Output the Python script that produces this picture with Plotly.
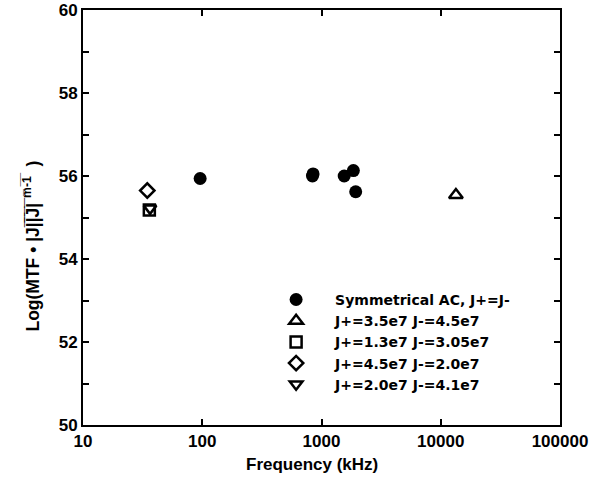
import plotly.graph_objects as go

# Data
sym_freq = [96, 840, 850, 1550, 1850, 1935]
sym_val = [55.94, 56.0, 56.05, 56.0, 56.13, 55.62]

tri_up_freq = [13400]
tri_up_val = [55.54]

sq_freq = [36]
sq_val = [55.18]

dia_freq = [34.6]
dia_val = [55.65]

tri_dn_freq = [36.5]
tri_dn_val = [55.22]

names = [
    "Symmetrical AC, J+=J-",
    "J+=3.5e7 J-=4.5e7",
    "J+=1.3e7 J-=3.05e7",
    "J+=4.5e7 J-=2.0e7",
    "J+=2.0e7 J-=4.1e7",
]

x_ticks = [10, 100, 1000, 10000, 100000]
x_ticktext = ["10", "100", "1000", "10000", "100000"]
y_ticks = list(range(50, 61))
y_ticktext = [str(v) if v % 2 == 0 else "" for v in y_ticks]

FONT = "Liberation Sans"
fig = go.Figure()

fig.add_trace(go.Scatter(x=sym_freq, y=sym_val, mode="markers", name=names[0],
                         marker=dict(symbol="circle", size=13, color="black")))
fig.add_trace(go.Scatter(x=tri_up_freq, y=tri_up_val, mode="markers", name=names[1],
                         marker=dict(symbol="triangle-up-open", size=12, color="black",
                                     line=dict(width=2.5, color="black"))))
fig.add_trace(go.Scatter(x=sq_freq, y=sq_val, mode="markers", name=names[2],
                         marker=dict(symbol="square-open", size=11, color="black",
                                     line=dict(width=2.5, color="black"))))
fig.add_trace(go.Scatter(x=dia_freq, y=dia_val, mode="markers", name=names[3],
                         marker=dict(symbol="diamond-open", size=11, color="black",
                                     line=dict(width=2.5, color="black"))))
fig.add_trace(go.Scatter(x=tri_dn_freq, y=tri_dn_val, mode="markers", name=names[4],
                         marker=dict(symbol="triangle-down-open", size=11, color="black",
                                     line=dict(width=2.5, color="black"))))

axis_common = dict(showline=True, linecolor="black", linewidth=2, mirror="ticks",
                   ticks="inside", ticklen=6, tickwidth=2, tickcolor="black",
                   showgrid=False, zeroline=False, automargin=False,
                   tickfont=dict(family=FONT, size=17, color="black", weight="bold"))

fig.update_xaxes(type="log", range=[1, 5], tickvals=x_ticks, ticktext=x_ticktext,
                 **axis_common)
fig.update_yaxes(range=[50, 60], tickvals=y_ticks, ticktext=y_ticktext, **axis_common)

fig.update_layout(
    width=596, height=491,
    margin=dict(l=83, r=36, t=10, b=66),
    paper_bgcolor="white", plot_bgcolor="white",
    showlegend=True,
    legend=dict(x=0.365, y=0.34, xanchor="left", yanchor="top",
                bgcolor="rgba(0,0,0,0)",
                font=dict(family="DejaVu Sans", size=14, color="black", weight="bold"),
                itemwidth=68, tracegroupgap=0),
    annotations=[
        dict(text="<b>Frequency (kHz)</b>", xref="paper", yref="paper",
             x=0.48, y=0, yshift=-28, xanchor="center", yanchor="top", showarrow=False,
             font=dict(family=FONT, size=17, color="black")),
        dict(text="<b>Log(MTF \u2022 |J|\u0305|\u0305J\u0305|\u0305 <sup>m\u0305-\u03051\u0305</sup>  )</b>",
             xref="paper", yref="paper",
             x=0, xshift=-52, y=0.43, xanchor="center", yanchor="middle",
             textangle=-90, showarrow=False,
             font=dict(family=FONT, size=17.5, color="black")),
    ],
)

fig.write_html("out.html")
